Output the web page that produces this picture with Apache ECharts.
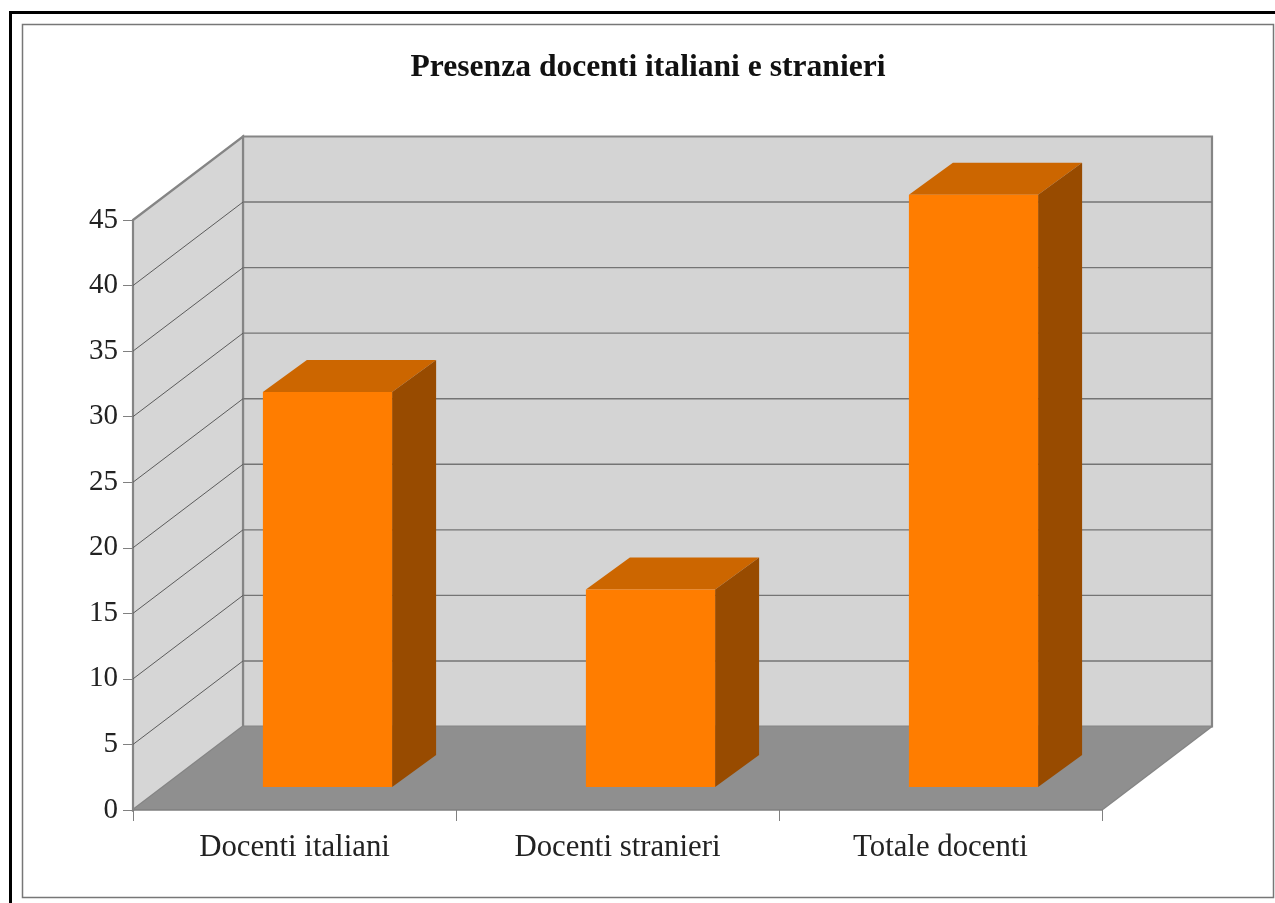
<!DOCTYPE html>
<html>
<head>
<meta charset="utf-8">
<style>html,body{margin:0;padding:0;background:#fff}#c{width:1275px;height:903px}</style>
<script src="https://cdn.jsdelivr.net/npm/echarts@6/dist/echarts.min.js"></script>
</head>
<body>
<div id="c"></div>
<script>
var titleText = 'Presenza docenti italiani e stranieri';
var categories = ['Docenti italiani', 'Docenti stranieri', 'Totale docenti'];
var values = [30, 15, 45];
var gridValues = [5, 10, 15, 20, 25, 30, 35, 40];
var wallTop = [45];

var FONT = '"Liberation Serif", serif';
var ROOM_DX = 110, ROOM_DY = -83.5;    // depth of the room in screen terms
var FRONT_DX = 33, FRONT_DY = -23;     // bar front face inside the room
var BAR_DX = 44, BAR_DY = -32;         // depth of a bar
var BAR_RATIO = 0.4;
var BAR_SCALE = 1.004;                 // bars sit slightly nearer than the axis plane

function poly(points, fill, stroke, lw) {
  return { type: 'polygon', shape: { points: points },
    style: { fill: fill, stroke: stroke || null, lineWidth: lw || 0 } };
}
function seg(x1, y1, x2, y2, color, lw) {
  return { type: 'line', shape: { x1: x1, y1: y1, x2: x2, y2: y2 },
    style: { stroke: color, lineWidth: lw, fill: null } };
}

function renderRoom(params, api) {
  var cs = params.coordSys;
  var xl = cs.x, xr = cs.x + cs.width;
  var y0 = api.coord([0, 0])[1];
  var yT = api.coord([0, wallTop[0]])[1];
  var edge = '#858585', line = '#747474', sideLine = '#5c5c5c';
  var kids = [
    poly([[xl + ROOM_DX, yT + ROOM_DY], [xr + ROOM_DX, yT + ROOM_DY], [xr + ROOM_DX, y0 + ROOM_DY], [xl + ROOM_DX, y0 + ROOM_DY]], '#d4d4d4', edge, 2.2),
    poly([[xl, yT], [xl + ROOM_DX, yT + ROOM_DY], [xl + ROOM_DX, y0 + ROOM_DY], [xl, y0]], '#d6d6d6', edge, 2.2)
  ];
  gridValues.forEach(function (v) {
    var y = api.coord([0, v])[1];
    kids.push(seg(xl, y, xl + ROOM_DX, y + ROOM_DY, sideLine, 1));
    kids.push(seg(xl + ROOM_DX, y + ROOM_DY, xr + ROOM_DX, y + ROOM_DY, line, 1.4));
  });
  kids.push(poly([[xl, y0], [xr, y0], [xr + ROOM_DX, y0 + ROOM_DY], [xl + ROOM_DX, y0 + ROOM_DY]], '#8f8f8f'));
  kids.push(seg(xr, y0, xr + ROOM_DX, y0 + ROOM_DY, edge, 1.5));
  return { type: 'group', children: kids };
}

function renderBar(params, api) {
  var idx = api.value(0), val = api.value(1);
  var base = api.coord([idx, 0]), top = api.coord([idx, val]);
  var w = api.size([1, 0])[0] * BAR_RATIO;
  var l = base[0] - w / 2 + FRONT_DX, r = l + w;
  var b = base[1] + FRONT_DY, t = b + (top[1] - base[1]) * BAR_SCALE;
  return { type: 'group', children: [
    poly([[l, t], [r, t], [r + BAR_DX, t + BAR_DY], [l + BAR_DX, t + BAR_DY]], '#cc6600'),
    poly([[r, t], [r + BAR_DX, t + BAR_DY], [r + BAR_DX, b + BAR_DY], [r, b]], '#984b00'),
    poly([[l, t], [r, t], [r, b], [l, b]], '#ff7d00')
  ] };
}

var chart = echarts.init(document.getElementById('c'), null, { renderer: 'canvas' });
chart.setOption({
  animation: false,
  backgroundColor: '#fff',
  title: {
    text: titleText, left: 648, top: 47, textAlign: 'center',
    textStyle: { fontFamily: FONT, fontSize: 31.6, fontWeight: 'bold', color: '#111' },
    padding: [5, 9, 5, 0]
  },
  grid: { left: 133, right: 173, top: 220, bottom: 93 },
  xAxis: {
    type: 'category', data: categories, z: 5,
    axisLine: { show: true, onZero: false, lineStyle: { color: '#808080', width: 1.5 } },
    axisTick: { show: true, length: 11, alignWithLabel: false, lineStyle: { color: '#808080', width: 1 } },
    axisLabel: { color: '#222', fontFamily: FONT, fontSize: 30.8, margin: 22, interval: 0 },
    splitLine: { show: false }
  },
  yAxis: {
    type: 'value', min: 0, max: 45, interval: 5, z: 5,
    axisLine: { show: false },
    axisTick: { show: true, length: 10, lineStyle: { color: '#808080', width: 1 } },
    axisLabel: { color: '#222', fontFamily: FONT, fontSize: 29, margin: 15, verticalAlign: 'middle' },
    splitLine: { show: false }
  },
  graphic: [
    { type: 'line', silent: true, shape: { x1: 10.5, y1: 12.5, x2: 1275, y2: 12.5 }, style: { stroke: '#000', lineWidth: 3 } },
    { type: 'line', silent: true, shape: { x1: 10.5, y1: 11, x2: 10.5, y2: 903 }, style: { stroke: '#000', lineWidth: 3 } },
    { type: 'rect', silent: true, shape: { x: 22.5, y: 24.5, width: 1251, height: 873 }, style: { fill: null, stroke: '#777', lineWidth: 1.5 } }
  ],
  series: [
    { type: 'custom', coordinateSystem: 'cartesian2d', z: 1, clip: false, silent: true,
      renderItem: renderRoom, data: [[0, 0]], encode: { x: 0, y: 1 } },
    { type: 'custom', coordinateSystem: 'cartesian2d', z: 3, clip: false, silent: true,
      renderItem: renderBar,
      data: values.map(function (v, i) { return [i, v]; }), encode: { x: 0, y: 1 } }
  ]
});
</script>
</body>
</html>
